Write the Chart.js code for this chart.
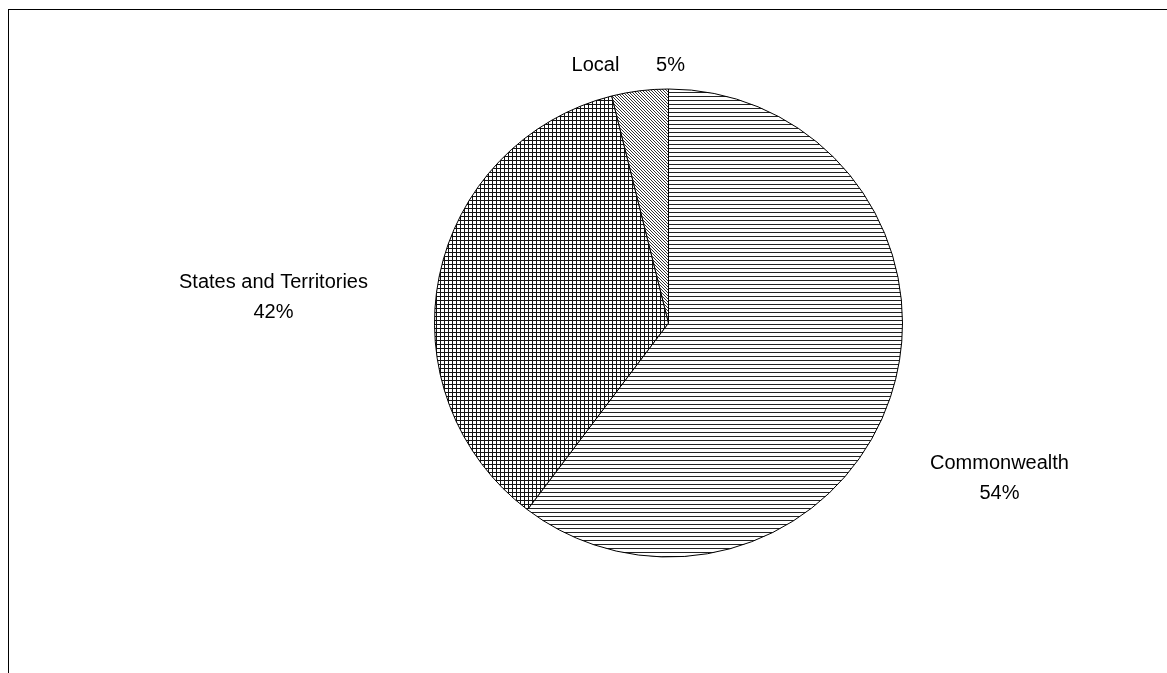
<!DOCTYPE html>
<html>
<head>
<meta charset="utf-8">
<script src="https://cdn.jsdelivr.net/npm/chart.js@4/dist/chart.umd.min.js"></script>
<style>
    html, body { margin: 0; padding: 0; background: #fff; }
    #wrap { position: relative; width: 1167px; height: 673px; }
    #frame { position: absolute; left: 8px; top: 9px; right: 0; bottom: 0; border-top: 1px solid #000; border-left: 1px solid #000; }
    canvas { position: absolute; left: 0; top: 0; }
</style>
</head>
<body>
<div id="wrap">
    <div id="frame"></div>
    <canvas id="chart" width="1167" height="673"></canvas>
</div>
<script>
// slice sizes as drawn in the picture (the printed percentages are kept separately)
const categories = ['Commonwealth', 'States and Territories', 'Local']
const sliceShares = [60.3, 35.8, 3.9]
const percentLabels = ['54%', '42%', '5%']

function makePattern(kind) {
    const size = kind === 'diagonal' ? 3 : 4
    const c = document.createElement('canvas')
    c.width = size
    c.height = size
    const ctx = c.getContext('2d')
    ctx.fillStyle = '#fff'
    ctx.fillRect(0, 0, size, size)
    ctx.fillStyle = '#222'
    if (kind === 'horizontal') {
        ctx.fillRect(0, 0, size, 1)
    } else if (kind === 'grid') {
        ctx.fillStyle = '#111'
        ctx.fillRect(0, 0, size, 1)
        ctx.fillRect(0, 0, 1, size)
    } else {
        ctx.fillStyle = '#333'
        for (let y = 0; y < size; y++) {
            for (let x = 0; x < size; x++) {
                if ((x - y + size) % size === 0) ctx.fillRect(x, y, 1, 1)
            }
        }
    }
    return c.getContext('2d').createPattern(c, 'repeat')
}

const patterns = [makePattern('horizontal'), makePattern('grid'), makePattern('diagonal')]

// label texts with their centres, relative to the pie centre
const labelSpots = [
    { dx: 331, dy: 140, text: categories[0] },
    { dx: 331, dy: 170, text: percentLabels[0] },
    { dx: -395, dy: -41, text: categories[1] },
    { dx: -395, dy: -11, text: percentLabels[1] },
    { dx: -73, dy: -258, text: categories[2] },
    { dx: 2, dy: -258, text: percentLabels[2] },
]

const labelPlugin = {
    id: 'sliceLabels',
    afterDatasetsDraw(chart) {
        const arc = chart.getDatasetMeta(0).data[0]
        if (!arc) return
        const ctx = chart.ctx
        ctx.save()
        ctx.font = '20px "Liberation Sans", Arial, sans-serif'
        ctx.fillStyle = '#000'
        ctx.textAlign = 'center'
        ctx.textBaseline = 'middle'
        labelSpots.forEach(spot => {
            ctx.fillText(spot.text, arc.x + spot.dx, arc.y + spot.dy)
        })
        ctx.restore()
    }
}

new Chart(document.getElementById('chart'), {
    type: 'pie',
    data: {
        labels: categories,
        datasets: [{
            data: sliceShares,
            backgroundColor: patterns,
            borderColor: '#000',
            borderWidth: 1,
        }]
    },
    options: {
        responsive: false,
        animation: false,
        layout: {
            padding: { left: 434, right: 264, top: 88, bottom: 115 }
        },
        plugins: {
            legend: { display: false },
            tooltip: { enabled: false },
        }
    },
    plugins: [labelPlugin]
})
</script>
</body>
</html>
